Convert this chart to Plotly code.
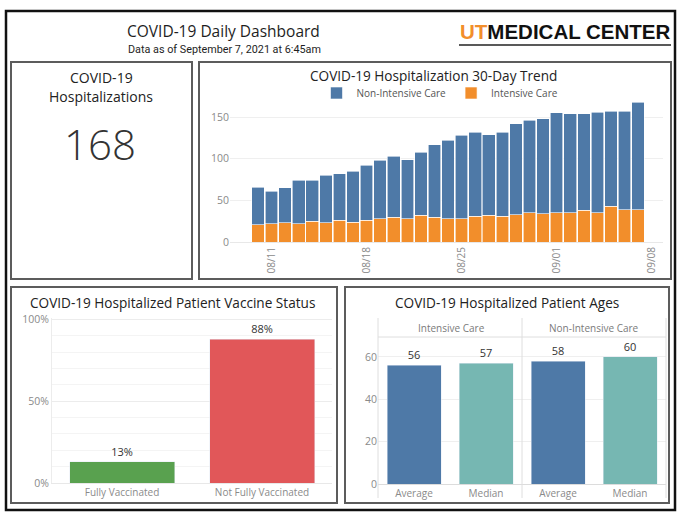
import plotly.graph_objects as go

W, H = 680, 517
def fx(x): return x / W
def fy(y): return 1 - y / H

# ---------------- data ----------------
current_hospitalizations = 168

dates = ["2021-08-10", "2021-08-11", "2021-08-12", "2021-08-13", "2021-08-14", "2021-08-15",
         "2021-08-16", "2021-08-17", "2021-08-18", "2021-08-19", "2021-08-20", "2021-08-21",
         "2021-08-22", "2021-08-23", "2021-08-24", "2021-08-25", "2021-08-26", "2021-08-27",
         "2021-08-28", "2021-08-29", "2021-08-30", "2021-08-31", "2021-09-01", "2021-09-02",
         "2021-09-03", "2021-09-04", "2021-09-05", "2021-09-06", "2021-09-07"]
intensive_care = [21, 22, 23, 22, 25, 23, 26, 24, 26, 28, 30, 28, 32, 30, 28, 28, 31, 32,
                  31, 33, 35, 34, 35, 35, 38, 35, 43, 39, 39]
non_intensive_care = [45, 39, 42, 52, 49, 57, 56, 61, 66, 70, 73, 71, 76, 87, 94, 100, 101, 97,
                      101, 109, 111, 114, 120, 119, 116, 121, 114, 118, 129]
trend_tickvals = ["2021-08-11", "2021-08-18", "2021-08-25", "2021-09-01", "2021-09-08"]
trend_ticktext = ["08/11", "08/18", "08/25", "09/01", "09/08"]

vaccine_status = ["Fully Vaccinated", "Not Fully Vaccinated"]
vaccine_pct = [13, 88]
vaccine_tickvals = [0, 50, 100]
vaccine_ticktext = ["0%", "50%", "100%"]

age_stats = ["Average", "Median"]
ages_intensive = [56, 57]
ages_non_intensive = [58, 60]

# ---------------- style ----------------
FONT = "Open Sans"
BLUE, ORANGE = "#4E79A7", "#F28E2B"
GREEN, RED = "#59A14F", "#E15759"
TEAL = "#76B7B2"
TICK = "#8a8a8a"
DARK = "#2b2b2b"
GRID = "#efefef"

fig = go.Figure()

# 30-day trend (stacked)
DAY = 86400000
fig.add_trace(go.Bar(x=dates, y=intensive_care, name="Intensive Care", marker_color=ORANGE,
                     marker_line=dict(color="white", width=0.6), width=0.93 * DAY,
                     xaxis="x", yaxis="y", legendrank=2, hoverinfo="x+y+name"))
fig.add_trace(go.Bar(x=dates, y=non_intensive_care, name="Non-Intensive Care", marker_color=BLUE,
                     marker_line=dict(color="white", width=0.6), width=0.93 * DAY,
                     xaxis="x", yaxis="y", legendrank=1, hoverinfo="x+y+name"))

# vaccine status
fig.add_trace(go.Bar(x=vaccine_status, y=vaccine_pct, marker_color=[GREEN, RED],
                     text=[f"{v}%" for v in vaccine_pct], textposition="outside",
                     textfont=dict(family=FONT, size=11, color="#333"), cliponaxis=False,
                     xaxis="x2", yaxis="y2", showlegend=False))

# ages
fig.add_trace(go.Bar(x=age_stats, y=ages_intensive, marker_color=[BLUE, TEAL],
                     text=[str(v) for v in ages_intensive], textposition="outside",
                     textfont=dict(family=FONT, size=11, color="#333"), cliponaxis=False,
                     width=0.75, xaxis="x3", yaxis="y3", showlegend=False))
fig.add_trace(go.Bar(x=age_stats, y=ages_non_intensive, marker_color=[BLUE, TEAL],
                     text=[str(v) for v in ages_non_intensive], textposition="outside",
                     textfont=dict(family=FONT, size=11, color="#333"), cliponaxis=False,
                     width=0.75, xaxis="x4", yaxis="y3", showlegend=False))

tickfont = dict(family=FONT, size=10, color=TICK)

fig.update_layout(
    width=W, height=H, margin=dict(l=0, r=0, t=0, b=0),
    paper_bgcolor="white", plot_bgcolor="white",
    font=dict(family=FONT, color=DARK),
    barmode="stack", bargap=0.25,
    showlegend=True,
    legend=dict(orientation="h", x=fx(440), xanchor="center", y=fy(93), yanchor="middle",
                font=dict(family=FONT, size=10, color="#555"), itemwidth=30,
                traceorder="normal",
                bgcolor="rgba(0,0,0,0)", tracegroupgap=0),
    xaxis=dict(domain=[fx(230), fx(663)], anchor="y", type="date",
               range=["2021-08-07 22:30", "2021-09-08 20:00"],
               tickvals=trend_tickvals, ticktext=trend_ticktext, tickangle=-90,
               tickfont=tickfont, showgrid=False, zeroline=False,
               showline=True, linecolor="#e8e8e8", ticks="", automargin=False),
    yaxis=dict(domain=[fy(242), fy(98.7)], anchor="x", range=[0, 172],
               tickvals=[0, 50, 100, 150], tickfont=dict(family=FONT, size=10.5, color=TICK),
               gridcolor=GRID, zeroline=False, ticks="", automargin=False),
    xaxis2=dict(domain=[fx(52), fx(332)], anchor="y2", tickfont=tickfont,
                showgrid=False, zeroline=False, showline=True, linecolor="#e8e8e8",
                ticks="", automargin=False),
    yaxis2=dict(domain=[fy(483), fy(318)], anchor="x2", range=[0, 101],
                tickvals=vaccine_tickvals, ticktext=vaccine_ticktext,
                tickfont=dict(family=FONT, size=10.5, color=TICK),
                gridcolor="#ececec", zeroline=False, showline=True, linecolor="#ececec",
                minor=dict(dtick=10, showgrid=True, gridcolor="#f4f4f4"),
                ticks="", automargin=False),
    xaxis3=dict(domain=[fx(378), fx(522)], anchor="y3", tickfont=tickfont,
                showgrid=False, zeroline=False, showline=True, linecolor="#dcdcdc",
                ticks="", automargin=False, range=[-0.5, 1.5]),
    xaxis4=dict(domain=[fx(522), fx(666)], anchor="y3", tickfont=tickfont,
                showgrid=False, zeroline=False, showline=True, linecolor="#dcdcdc",
                ticks="", automargin=False, range=[-0.5, 1.5]),
    yaxis3=dict(domain=[fy(484), fy(337)], anchor="x3", range=[0, 69.4],
                tickvals=[0, 20, 40, 60], tickfont=dict(family=FONT, size=10.5, color=TICK),
                gridcolor=GRID, zeroline=False, ticks="", automargin=False),
)

shapes = []
# outer frame
shapes.append(dict(type="rect", xref="paper", yref="paper", x0=fx(6), x1=fx(675), y0=fy(510), y1=fy(11),
                   line=dict(color="#111", width=2.5)))
# panels
for (x0, y0, x1, y1) in [(11, 62, 192, 279), (199, 62, 671, 279), (11, 287, 337, 503), (345, 287, 669, 503)]:
    shapes.append(dict(type="rect", xref="paper", yref="paper", x0=fx(x0), x1=fx(x1), y0=fy(y1), y1=fy(y0),
                       line=dict(color="#5c5c5c", width=2)))
# logo underline
shapes.append(dict(type="line", xref="paper", yref="paper", x0=fx(459), x1=fx(671), y0=fy(45), y1=fy(45),
                   line=dict(color="#222", width=1.5)))
# ages facet dividers
for xv in [378, 522, 666]:
    shapes.append(dict(type="line", xref="paper", yref="paper", x0=fx(xv), x1=fx(xv), y0=fy(498), y1=fy(318),
                       line=dict(color="#dedede", width=1)))
shapes.append(dict(type="line", xref="paper", yref="paper", x0=fx(378), x1=fx(666), y0=fy(337), y1=fy(337),
                   line=dict(color="#dedede", width=1)))
fig.update_layout(shapes=shapes)

def ann(x, y, text, size, color=DARK, family=FONT, weight=None, xanchor="center"):
    f = dict(family=family, size=size, color=color)
    if weight:
        f["weight"] = weight
    return dict(x=fx(x), y=fy(y), xref="paper", yref="paper", text=text, showarrow=False,
                xanchor=xanchor, yanchor="middle", font=f)

annotations = [
    ann(223, 30.5, "COVID-19 Daily Dashboard", 15.5, "#1e1e1e"),
    ann(224, 49.5, "Data as of September 7, 2021 at 6:45am", 10.8, "#1e1e1e", family="Roboto"),
    ann(565, 31, "<b><span style='color:#F28E2B'>UT</span>MEDICAL CENTER</b>", 20.5, "#111",
        family="Liberation Sans"),
    ann(101, 77, "COVID-19", 14, "#222"),
    ann(101, 96, "Hospitalizations", 14, "#222"),
    ann(100, 143, str(current_hospitalizations), 42, "#333", weight=300),
    ann(433, 76, "COVID-19 Hospitalization 30-Day Trend", 13.6, "#222"),
    ann(172, 302, "COVID-19 Hospitalized Patient Vaccine Status", 13.6, "#222"),
    ann(507, 302, "COVID-19 Hospitalized Patient Ages", 13.6, "#222"),
    ann(451, 328, "Intensive Care", 10, "#7a7a7a"),
    ann(594, 328, "Non-Intensive Care", 10, "#7a7a7a"),
]
fig.update_layout(annotations=annotations)

fig.write_html("out.html", config={"displayModeBar": False},
               post_script="document.body.style.margin='0';document.body.style.overflow='hidden';")
